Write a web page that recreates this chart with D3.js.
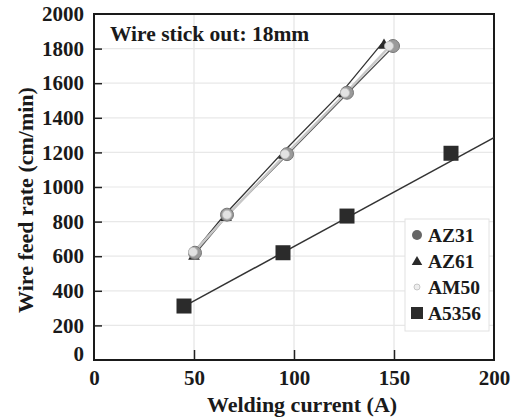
<!DOCTYPE html>
<html><head><meta charset="utf-8">
<script src="https://cdn.jsdelivr.net/npm/d3@7"></script>
<style>body{margin:0;background:#fff}svg{display:block}text{font-family:"Liberation Serif","Times New Roman",serif !important;font-weight:bold;fill:#1a1a1a}</style>
</head><body><svg id="c" width="520" height="419"></svg>
<script>
const xTicks = [0, 50, 100, 150, 200];
const yTicks = [0, 200, 400, 600, 800, 1000, 1200, 1400, 1600, 1800, 2000];
const seriesNames = ["AZ31", "AZ61", "AM50", "A5356"];
const az31X = [50, 66, 96, 126, 149];
const az31Y = [620, 840, 1190, 1545, 1815];
const az61X = [50, 66, 95, 125, 145];
const az61Y = [610, 835, 1195, 1550, 1830];
const am50X = [50, 67, 96, 126, 148];
const am50Y = [625, 840, 1190, 1545, 1815];
const a5356X = [45, 94.5, 126.5, 178.5];
const a5356Y = [312, 620, 832, 1195];
const a5356FitX = [45, 200];
const a5356FitY = [310, 1285];
const annotation = "Wire stick out: 18mm";
const xTitle = "Welding current (A)";
const yTitle = "Wire feed rate (cm/min)";

const svg = d3.select("#c");
const L = 94, R = 494, T = 14, B = 360;
const x = d3.scaleLinear().domain([0, 200]).range([L, R]);
const y = d3.scaleLinear().domain([0, 2000]).range([B, T]);
const serif = '"Liberation Serif","Times New Roman",serif';

// grid
svg.append("g").selectAll("line").data(xTicks.slice(1, -1)).join("line")
  .attr("x1", d => x(d)).attr("x2", d => x(d)).attr("y1", T).attr("y2", B)
  .attr("stroke", "#e4e4e4").attr("stroke-width", 1.2);
svg.append("g").selectAll("line").data(yTicks.slice(1, -1)).join("line")
  .attr("y1", d => y(d)).attr("y2", d => y(d)).attr("x1", L).attr("x2", R)
  .attr("stroke", "#e8e8e8").attr("stroke-width", 1.2);

// axes
const xAxis = svg.append("g").attr("transform", `translate(0,${B})`)
  .call(d3.axisBottom(x).tickValues(xTicks).tickFormat(d3.format("d")).tickSizeInner(-10).tickSizeOuter(0).tickPadding(10));
const yAxis = svg.append("g").attr("transform", `translate(${L},0)`)
  .call(d3.axisLeft(y).tickValues(yTicks).tickFormat(d3.format("d")).tickSizeInner(-8).tickSizeOuter(0).tickPadding(10));
[xAxis, yAxis].forEach(g => {
  g.attr("font-family", serif).attr("font-size", 21);
  g.select(".domain").remove();
  g.selectAll(".tick line").attr("stroke", "#222").attr("stroke-width", 1.5);
  g.selectAll(".tick text").style("font-size", "21px").style("font-family", serif).attr("fill", "#1a1a1a");
});
xAxis.selectAll(".tick").filter(d => d === 0 || d === 200).select("line").remove();
yAxis.selectAll(".tick").filter(d => d === 0 || d === 2000).select("line").remove();
yAxis.selectAll(".tick").filter(d => d === 0).select("text").attr("dy", "0.0em");

// frame
svg.append("rect").attr("x", L).attr("y", T).attr("width", R - L).attr("height", B - T)
  .attr("fill", "none").attr("stroke", "#1a1a1a").attr("stroke-width", 2);

// titles
svg.append("text").attr("x", (L + R) / 2 + 8).attr("y", 412).attr("text-anchor", "middle")
  .style("font-size", "22px").text(xTitle);
svg.append("text").attr("transform", `translate(33,${(T + B) / 2 + 13}) rotate(-90)`)
  .attr("text-anchor", "middle").style("font-size", "22px").text(yTitle);
svg.append("text").attr("x", 110).attr("y", 41).style("font-size", "21.5px").text(annotation);

const line = d3.line().x(d => x(d[0])).y(d => y(d[1]));
const zip = (a, b) => a.map((v, i) => [v, b[i]]);

// lines
svg.append("path").datum(zip(az61X, az61Y)).attr("d", line).attr("fill", "none").attr("stroke", "#333").attr("stroke-width", 1.3).attr("transform", "translate(-2,0)");
svg.append("path").datum(zip(az31X, az31Y)).attr("d", line).attr("fill", "none").attr("stroke", "#555").attr("stroke-width", 1.3).attr("transform", "translate(2,0)");
svg.append("path").datum(zip(am50X, am50Y)).attr("d", line).attr("fill", "none").attr("stroke", "#c8c8c8").attr("stroke-width", 2.4);
svg.append("path").datum(zip(a5356FitX, a5356FitY)).attr("d", line).attr("fill", "none").attr("stroke", "#333").attr("stroke-width", 1.5);

// markers
const tri = d3.symbol().type(d3.symbolTriangle).size(60);
svg.append("g").selectAll("path").data(zip(az61X, az61Y)).join("path")
  .attr("d", tri).attr("transform", d => `translate(${x(d[0])},${y(d[1]) + 2})`).attr("fill", "#2a2a2a");
svg.append("g").selectAll("circle").data(zip(az31X, az31Y)).join("circle")
  .attr("cx", d => x(d[0]) + 1).attr("cy", d => y(d[1])).attr("r", 6.5)
  .attr("fill", "#9a9a9a").attr("stroke", "#777").attr("stroke-width", 1);
svg.append("g").selectAll("circle").data(zip(am50X, am50Y)).join("circle")
  .attr("cx", d => x(d[0]) - 1).attr("cy", d => y(d[1])).attr("r", 4.5)
  .attr("fill", "#e2e2e2").attr("stroke", "#bbb").attr("stroke-width", 0.8);
svg.append("g").selectAll("rect").data(zip(a5356X, a5356Y)).join("rect")
  .attr("x", d => x(d[0]) - 7.5).attr("y", d => y(d[1]) - 7.5).attr("width", 15).attr("height", 15)
  .attr("fill", "#2b2b2b");

// legend
const lg = svg.append("g");
lg.append("rect").attr("x", 405).attr("y", 219).attr("width", 84).attr("height", 112)
  .attr("fill", "#fff").attr("stroke", "#e2e2e2").attr("stroke-width", 1);
const ly = [235, 261, 287, 313];
seriesNames.forEach((n, i) => {
  const cy = ly[i], cx = 417;
  if (i === 0) lg.append("circle").attr("cx", cx).attr("cy", cy).attr("r", 5).attr("fill", "#666");
  if (i === 1) lg.append("path").attr("d", d3.symbol().type(d3.symbolTriangle).size(48)).attr("transform", `translate(${cx},${cy + 1})`).attr("fill", "#2a2a2a");
  if (i === 2) lg.append("circle").attr("cx", cx).attr("cy", cy).attr("r", 3).attr("fill", "#eee").attr("stroke", "#bbb").attr("stroke-width", 0.8);
  if (i === 3) lg.append("rect").attr("x", cx - 6).attr("y", cy - 6).attr("width", 12).attr("height", 12).attr("fill", "#2b2b2b");
  lg.append("text").attr("x", 428).attr("y", cy + 6.5).style("font-size", "19.5px").text(n);
});
</script></body></html>
